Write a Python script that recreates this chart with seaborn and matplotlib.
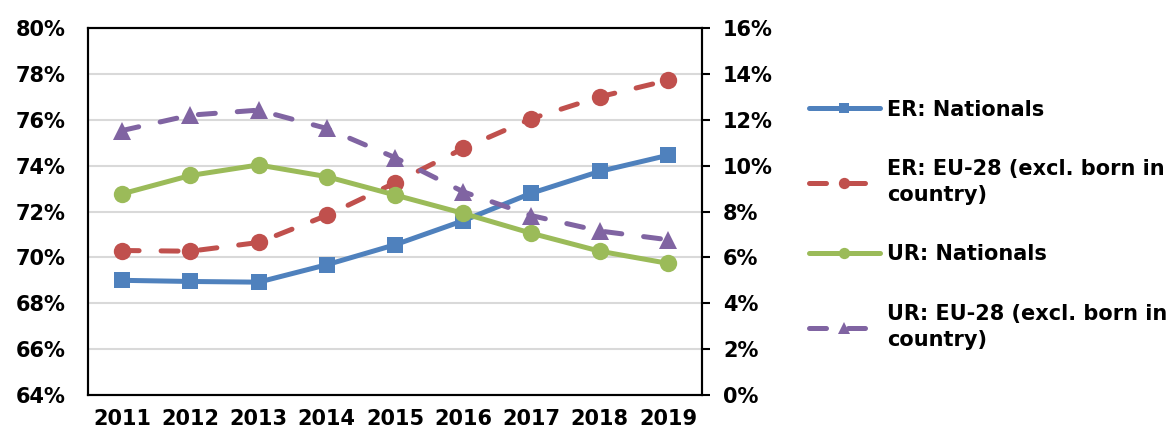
import pandas as pd
import numpy as np
import matplotlib
matplotlib.use("Agg")
import matplotlib.pyplot as plt
from matplotlib.ticker import PercentFormatter, MultipleLocator
import seaborn as sns

years = [2011, 2012, 2013, 2014, 2015, 2016, 2017, 2018, 2019]
er_nationals = [69.0, 68.95, 68.92, 69.68, 70.55, 71.6, 72.8, 73.75, 74.45]
er_eu28 = [70.3, 70.27, 70.65, 71.83, 73.25, 74.75, 76.05, 77.0, 77.72]
ur_nationals = [8.77, 9.57, 10.03, 9.52, 8.72, 7.92, 7.05, 6.27, 5.74]
ur_eu28 = [11.53, 12.2, 12.42, 11.62, 10.35, 8.86, 7.82, 7.15, 6.77]

labels = ["ER: Nationals", "ER: EU-28 (excl. born in\ncountry)",
          "UR: Nationals", "UR: EU-28 (excl. born in\ncountry)"]

er = pd.DataFrame({"Year": years, labels[0]: er_nationals, labels[1]: er_eu28})
ur = pd.DataFrame({"Year": years, labels[2]: ur_nationals, labels[3]: ur_eu28})
er = pd.melt(er, ["Year"])
ur = pd.melt(ur, ["Year"])

sns.set_theme(style="white")
plt.rcParams['font.family'] = ['DejaVu Sans']
plt.rcParams['font.weight'] = 'bold'
plt.rcParams['text.color'] = 'black'
plt.rcParams['xtick.color'] = 'black'
plt.rcParams['ytick.color'] = 'black'

fig = plt.figure(figsize=(11.76, 4.32), dpi=100)
ax1 = fig.add_axes([0.0748, 0.0856, 0.5222, 0.8496])
ax2 = ax1.twinx()

lw = 3.6
dash = (0, (3.4, 4.4))
sns.lineplot(data=er[er['variable'] == labels[0]], x='Year', y='value', ax=ax1,
             color="#4F81BD", marker='s', markersize=12, markeredgewidth=0, linewidth=lw)
sns.lineplot(data=er[er['variable'] == labels[1]], x='Year', y='value', ax=ax1,
             color="#C0504D", marker='o', markersize=12.5, markeredgewidth=0, linewidth=lw,
             dashes=False, linestyle=dash, dash_capstyle='round')
sns.lineplot(data=ur[ur['variable'] == labels[2]], x='Year', y='value', ax=ax2,
             color="#9BBB59", marker='o', markersize=12.5, markeredgewidth=0, linewidth=lw)
sns.lineplot(data=ur[ur['variable'] == labels[3]], x='Year', y='value', ax=ax2,
             color="#8064A2", marker='^', markersize=12.5, markeredgewidth=0, linewidth=lw,
             dashes=False, linestyle=dash, dash_capstyle='round')

ax1.set_xlim(2010.5, 2019.5)
ax1.set_ylim(64, 80)
ax2.set_ylim(0, 16)
ax1.set_xticks(years, [str(y) for y in years])
ax1.yaxis.set_major_locator(MultipleLocator(2))
ax2.yaxis.set_major_locator(MultipleLocator(2))
ax1.yaxis.set_major_formatter(PercentFormatter(decimals=0))
ax2.yaxis.set_major_formatter(PercentFormatter(decimals=0))
ax1.set_xlabel("")
ax1.set_ylabel("")
ax2.set_ylabel("")
ax1.yaxis.grid(True, color="#D9D9D9", linewidth=1.5)
ax1.set_axisbelow(True)

for ax in (ax1, ax2):
    for s in ax.spines.values():
        s.set_color("black")
        s.set_linewidth(1.5)
ax1.tick_params(axis='y', length=0, pad=16, labelsize=15, labelcolor='black')
ax1.tick_params(axis='x', length=0, pad=10, labelsize=15, labelcolor='black')
ax2.tick_params(axis='y', length=6, width=1.5, color='black', direction='out',
                pad=9, labelsize=15, right=True, labelcolor='black')
for t in ax1.get_xticklabels() + ax1.get_yticklabels() + ax2.get_yticklabels():
    t.set_fontweight('bold')

handles = ax1.get_lines()[:2] + ax2.get_lines()[:2]
leg = fig.legend(handles, labels, loc='center left', bbox_to_anchor=(0.672, 0.48),
                 frameon=False, fontsize=15, handlelength=3.4, handletextpad=0.35,
                 labelspacing=1.9, markerscale=0.65)
for t in leg.get_texts():
    t.set_fontweight('bold')
    t.set_color('black')
    t.set_linespacing(1.35)

plt.savefig('out.png', dpi=100)
